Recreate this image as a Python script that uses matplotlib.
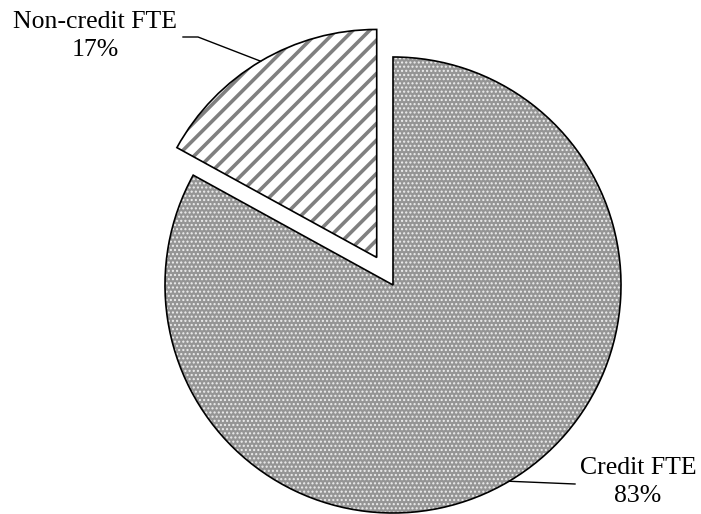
import math
import matplotlib.pyplot as plt

plt.rcParams['font.family'] = ['Liberation Serif', 'DejaVu Serif']

categories = ["Non-credit FTE", "Credit FTE"]
shares = [17, 83]
pct_labels = ["17%", "83%"]

fig = plt.figure(figsize=(7.01, 5.14), dpi=100)
ax = fig.add_axes([0, 0, 1, 1])

# pie geometry in pixel-like data units (y up)
center = (393, 229)
radius = 228
explode = [32, 0]
faces = ["white", "#959595"]
hatch_colors = ["#808080", "#eeeeee"]
hatches = ["//", "...."]
hatch_widths = [2.6, 1.0]

# plain fill
ax.pie(shares, explode=explode, center=center, radius=radius, startangle=90,
       colors=faces, wedgeprops=dict(linewidth=0))

# hatch layer, hatch colour comes from the edge colour
hatch_wedges, _ = ax.pie(shares, explode=explode, center=center, radius=radius,
                         startangle=90, colors=["none", "none"],
                         wedgeprops=dict(linewidth=0))
for w, h, c, lw in zip(hatch_wedges, hatches, hatch_colors, hatch_widths):
    w.set_hatch(h)
    w.set_edgecolor(c)
    if hasattr(w, "set_hatch_linewidth"):
        w.set_hatch_linewidth(lw)

# outlines
edge_wedges, _ = ax.pie(shares, explode=explode, center=center, radius=radius,
                        startangle=90,
                        wedgeprops=dict(facecolor="none", edgecolor="black",
                                        linewidth=1.2))

# label placement: (elbow point, end point, text position)
label_layout = [
    ((198, 477), (183, 477), (95, 478)),
    ((575, 30), (575, 30), (638, 32)),
]

for w, name, pct, (elbow, end, txt) in zip(edge_wedges, categories, pct_labels, label_layout):
    mid = math.radians((w.theta1 + w.theta2) / 2)
    start = (w.center[0] + w.r * math.cos(mid), w.center[1] + w.r * math.sin(mid))
    ax.plot([start[0], elbow[0], end[0]], [start[1], elbow[1], end[1]],
            color="black", linewidth=1.0, clip_on=False)
    ax.text(txt[0], txt[1], f"{name}\n{pct}", ha="center", va="center",
            multialignment="center", fontsize=18.5, linespacing=1.38)

ax.set_xlim(0, 701)
ax.set_ylim(0, 514)
ax.set_aspect("auto")
ax.axis("off")

fig.savefig("out.png", dpi=100)
